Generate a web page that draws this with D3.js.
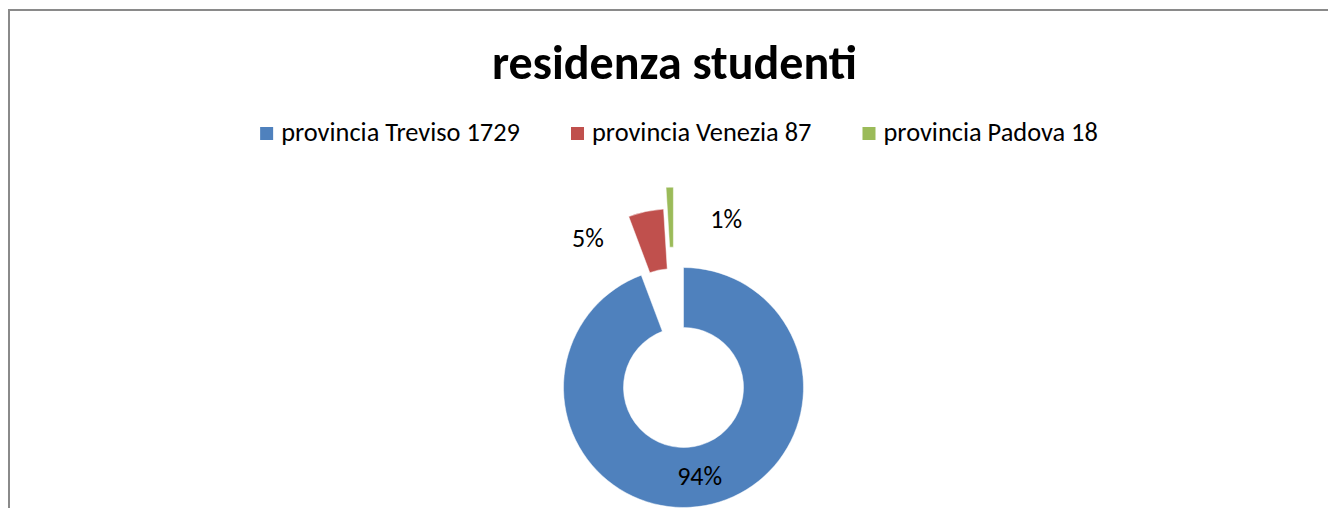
<!DOCTYPE html>
<html>
<head>
<meta charset="utf-8">
<script src="https://cdn.jsdelivr.net/npm/d3@7"></script>
<style>
  html, body { margin: 0; padding: 0; background: #fff; }
  svg { display: block; }
  text { font-family: Carlito, Calibri, Lato, sans-serif; fill: #000; }
</style>
</head>
<body>
<svg id="area" width="1328" height="508"></svg>
<script>
// data
const titleText = 'residenza studenti';
const provinces = ['provincia Treviso', 'provincia Venezia', 'provincia Padova'];
const students = [1729, 87, 18];
const colors = ['#4F81BD', '#C0504D', '#9BBB59'];

// explosion per slice: distance in px, direction shift in degrees from the mid angle
const explode = [
  { dist: 0, shift: 0 },
  { dist: 60, shift: 0 },
  { dist: 81, shift: -5.4 },
];
// label placement: 'mid' = middle of ring, otherwise polar position from the centre
const labelPlace = [
  { mode: 'mid' },
  { angle: 327.5, r: 178 },
  { angle: 14.2, r: 174 },
];

const svg = d3.select('#area');
const width = 1328;
const cx = 683.5;
const cy = 387.5;
const outerR = 120;
const innerR = 60;

// fit a text element's font size so it spans the target width
const fit = (sel, target) => {
  const w = sel.node().getComputedTextLength();
  const fs = parseFloat(sel.attr('font-size'));
  sel.attr('font-size', fs * target / w);
  return sel;
};

// chart frame (only top and left show in the crop)
svg.append('path')
  .attr('d', `M9,${508} V10 H${width}`)
  .attr('fill', 'none')
  .attr('stroke', '#8a8a8a')
  .attr('stroke-width', 2);

// title
svg.append('text')
  .attr('x', 674.5)
  .attr('y', 79)
  .attr('text-anchor', 'middle')
  .attr('font-weight', 'bold')
  .attr('font-size', 40)
  .text(titleText)
  .call(fit, 365);

// legend
const legendItems = provinces.map((p, i) => `${p} ${students[i]}`);
const legend = svg.append('g');
const probe = legend.append('text').attr('font-size', 22).text(legendItems[0]);
fit(probe, 239);
const legendFs = parseFloat(probe.attr('font-size'));
probe.remove();

const box = 13;
const boxGap = 8;
const itemGap = 51;
let lx = 0;
legendItems.forEach((t, i) => {
  const g = legend.append('g').attr('transform', `translate(${lx},0)`);
  g.append('rect')
    .attr('x', 0).attr('y', -14)
    .attr('width', box).attr('height', box)
    .attr('fill', colors[i]);
  const txt = g.append('text')
    .attr('x', box + boxGap)
    .attr('y', 0)
    .attr('font-size', legendFs)
    .text(t);
  lx += box + boxGap + txt.node().getComputedTextLength() + itemGap;
});
const legendW = lx - itemGap;
legend.attr('transform', `translate(${679 - legendW / 2},141)`);

// doughnut
const pie = d3.pie().sort(null).value((d) => d);
const arcs = pie(students);
const arc = d3.arc().innerRadius(innerR).outerRadius(outerR);
const total = d3.sum(students);
const rad = (deg) => deg * Math.PI / 180;

const offset = (d, i) => {
  const mid = (d.startAngle + d.endAngle) / 2 + rad(explode[i].shift);
  return [Math.sin(mid) * explode[i].dist, -Math.cos(mid) * explode[i].dist];
};

const chart = svg.append('g').attr('transform', `translate(${cx},${cy})`);

chart.selectAll('path.slice')
  .data(arcs)
  .join('path')
  .attr('class', 'slice')
  .attr('d', arc)
  .attr('fill', (d, i) => colors[i])
  .attr('stroke', '#fff')
  .attr('stroke-width', 0.5)
  .attr('transform', (d, i) => {
    const [ox, oy] = offset(d, i);
    return `translate(${ox},${oy})`;
  });

// label font size taken from the width of the largest label
const pct = d3.format('.0%');
const probeLabel = chart.append('text').attr('font-size', 20).text(pct(students[0] / total));
fit(probeLabel, 45);
const labelFs = parseFloat(probeLabel.attr('font-size'));
probeLabel.remove();

const labelArc = d3.arc().innerRadius((innerR + outerR) / 2).outerRadius((innerR + outerR) / 2);
chart.selectAll('text.label')
  .data(arcs)
  .join('text')
  .attr('class', 'label')
  .attr('x', (d, i) => (labelPlace[i].mode === 'mid'
    ? labelArc.centroid(d)[0]
    : Math.sin(rad(labelPlace[i].angle)) * labelPlace[i].r))
  .attr('y', (d, i) => (labelPlace[i].mode === 'mid'
    ? labelArc.centroid(d)[1]
    : -Math.cos(rad(labelPlace[i].angle)) * labelPlace[i].r))
  .attr('dy', '0.35em')
  .attr('text-anchor', 'middle')
  .attr('font-size', labelFs)
  .text((d) => pct(d.data / total));
</script>
</body>
</html>
